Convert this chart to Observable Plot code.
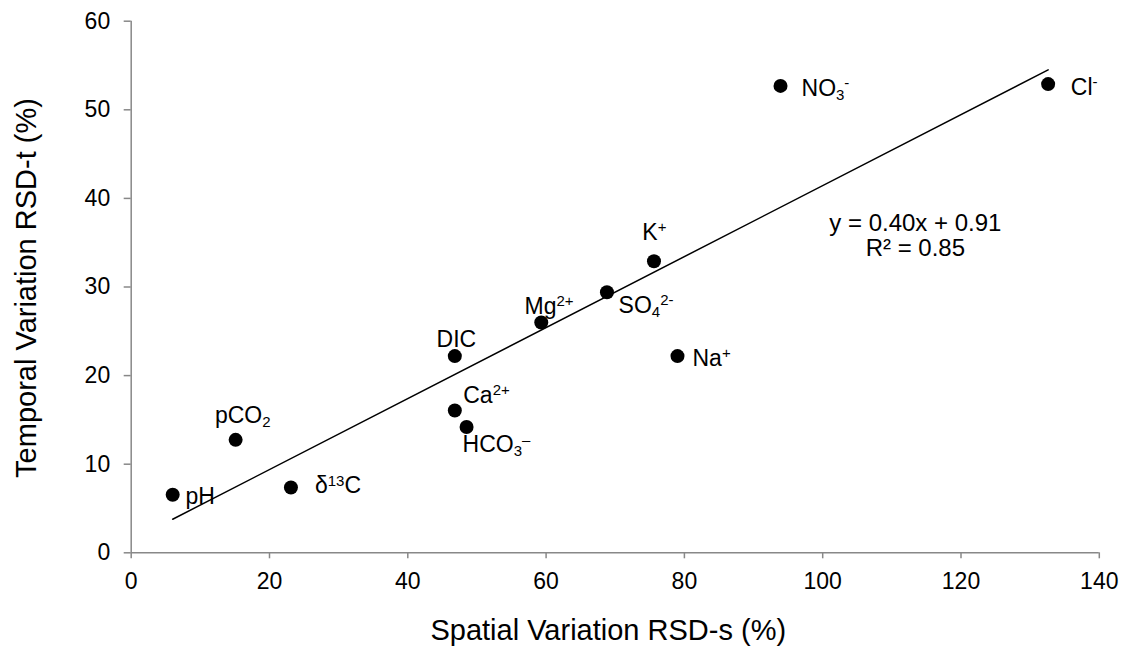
<!DOCTYPE html>
<html>
<head>
<meta charset="utf-8">
<script src="https://cdn.jsdelivr.net/npm/d3@7"></script>
<script src="https://cdn.jsdelivr.net/npm/@observablehq/plot@0.6"></script>
<style>
  body { margin: 0; background: #fff; }
  #chart svg { display: block; }
  g[aria-label="x-axis tick"], g[aria-label="y-axis tick"] { stroke: #888; stroke-width: 1.5; }
</style>
</head>
<body>
<div id="chart"></div>
<script>
// ---- data ----
const names    = ["pH", "pCO_{2}", "δ^{13}C", "DIC", "Ca^{2+}", "HCO_{3}^{–}", "Mg^{2+}", "SO_{4}^{2-}", "K^{+}", "Na^{+}", "NO_{3}^{-}", "Cl^{-}"];
const spatial  = [6.0, 15.1, 23.1, 46.8, 46.8, 48.5, 59.3, 68.8, 75.6, 79.0, 93.9, 132.6];
const temporal = [6.55, 12.75, 7.37, 22.2, 16.06, 14.2, 26.0, 29.4, 32.9, 22.2, 52.7, 52.9];
const xTicks = [0, 20, 40, 60, 80, 100, 120, 140];
const yTicks = [0, 10, 20, 30, 40, 50, 60];
const xTitle = "Spatial Variation RSD-s (%)";
const yTitle = "Temporal Variation RSD-t (%)";
const equation = "y = 0.40x + 0.91\nR² = 0.85";

// ---- styling / label placement (pixels) ----
const labelOffsets = {
  "pH": [12.7, 2],
  "pCO_{2}": [-20.7, -24],
  "δ^{13}C": [24, -1.5],
  "DIC": [-18.3, -16.3],
  "Ca^{2+}": [8.4, -15.2],
  "HCO_{3}^{–}": [-4, 18],
  "Mg^{2+}": [-16.7, -16.3],
  "SO_{4}^{2-}": [11.6, 13],
  "K^{+}": [-11.6, -28.7],
  "Na^{+}": [15, 2.4],
  "NO_{3}^{-}": [21, 2.5],
  "Cl^{-}": [22.7, 3.5]
};
const eqPos = {x: 113.4, y: 35.8};
const font = "'Liberation Sans', Arial, sans-serif";

const rows = names.map((name, i) => ({name, x: spatial[i], y: temporal[i]}));

const labelMarks = names.map(n => {
  const [dx, dy] = labelOffsets[n];
  return Plot.text(rows.filter(d => d.name === n), {
    x: "x", y: "y", text: "name", dx, dy, textAnchor: "start",
    fontSize: 23, fill: "#000"
  });
});

const svg = Plot.plot({
  width: 1125,
  height: 649,
  marginLeft: 130.7,
  marginRight: 26.2,
  marginTop: 20.7,
  marginBottom: 96.7,
  style: {fontFamily: font, fontSize: "23px", color: "#000", background: "#fff"},
  x: {domain: [0, 140], ticks: xTicks, tickSize: 6, tickPadding: 14, label: null},
  y: {domain: [0, 60], ticks: yTicks, tickSize: 7, tickPadding: 14, label: null},
  marks: [
    Plot.ruleY([0], {stroke: "#888", strokeWidth: 1.5}),
    Plot.ruleX([0], {stroke: "#888", strokeWidth: 1.5}),
    Plot.linearRegressionY(rows, {x: "x", y: "y", ci: 0, stroke: "#000", strokeWidth: 1.5}),
    Plot.dot(rows, {x: "x", y: "y", r: 7, fill: "#000", stroke: null}),
    ...labelMarks,
    Plot.text([equation], {x: () => eqPos.x, y: () => eqPos.y, text: d => d, fontSize: 24, lineHeight: 1.05, textAnchor: "middle", fill: "#000"}),
    Plot.text([xTitle], {text: d => d, frameAnchor: "bottom", textAnchor: "middle", lineAnchor: "middle", dx: -7, dy: 77.7, fontSize: 29, fill: "#000"}),
    Plot.text([yTitle], {text: d => d, frameAnchor: "left", textAnchor: "middle", lineAnchor: "middle", rotate: -90, dx: -104, dy: 1, fontSize: 29, fill: "#000"})
  ]
});

// render sub/superscripts as tspans
svg.querySelectorAll("text").forEach(t => {
  const s = t.textContent;
  if (!/[_^]\{/.test(s)) return;
  t.textContent = "";
  const re = /([_^])\{([^}]*)\}|([^_^]+)/g;
  let m, cur = 0;
  while ((m = re.exec(s)) !== null) {
    const ts = document.createElementNS("http://www.w3.org/2000/svg", "tspan");
    let target = 0;
    if (m[1] === "_") { target = 4; ts.setAttribute("font-size", "15"); ts.textContent = m[2]; }
    else if (m[1] === "^") { target = -7.5; ts.setAttribute("font-size", "15"); ts.textContent = m[2]; }
    else { ts.textContent = m[3]; }
    if (target - cur !== 0) ts.setAttribute("dy", target - cur);
    cur = target;
    t.appendChild(ts);
  }
});

document.getElementById("chart").appendChild(svg);
</script>
</body>
</html>
